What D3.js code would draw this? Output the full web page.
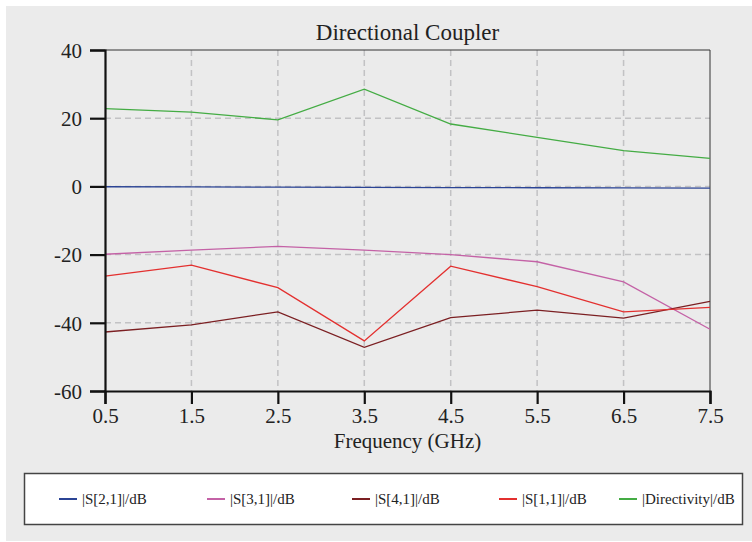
<!DOCTYPE html>
<html><head><meta charset="utf-8">
<script src="https://cdn.jsdelivr.net/npm/d3@7"></script>
<style>body{margin:0;background:#fff;} svg{display:block;}</style>
</head><body>
<script>
const freqs = [0.5, 1.5, 2.5, 3.5, 4.5, 5.5, 6.5, 7.5];
const s21 = [-0.1, -0.15, -0.2, -0.3, -0.35, -0.4, -0.45, -0.5];
const s31 = [-19.9, -18.7, -17.6, -18.7, -20.0, -22.1, -28.0, -41.9];
const s41 = [-42.7, -40.6, -36.8, -47.2, -38.5, -36.3, -38.6, -33.7];
const s11 = [-26.3, -23.1, -29.7, -45.3, -23.4, -29.4, -36.8, -35.5];
const directivity = [22.8, 21.8, 19.5, 28.5, 18.3, 14.4, 10.5, 8.2];
const xTicks = [0.5, 1.5, 2.5, 3.5, 4.5, 5.5, 6.5, 7.5];
const yTicks = [40, 20, 0, -20, -40, -60];
const seriesNames = ["|S[2,1]|/dB", "|S[3,1]|/dB", "|S[4,1]|/dB", "|S[1,1]|/dB", "|Directivity|/dB"];
const seriesColors = ["#2b4495", "#c462a6", "#7b1f22", "#e3302f", "#44ac44"];
const seriesValues = [s21, s31, s41, s11, directivity];

const W = 752, H = 542;
const L = 105, R = 710, T = 50, B = 391;
const font = "'Liberation Serif', 'Times New Roman', serif";

const svg = d3.select("body").append("svg").attr("width", W).attr("height", H);
svg.append("rect").attr("x", 6).attr("y", 6).attr("width", W - 6).attr("height", H - 7).attr("fill", "#ebebeb");

const x = d3.scaleLinear().domain([0.5, 7.5]).range([L, R]);
const y = d3.scaleLinear().domain([-60, 40]).range([B, T]);

// grid
const grid = svg.append("g").attr("stroke", "#c2c2c4").attr("stroke-width", 1.5).attr("stroke-dasharray", "6,4");
xTicks.slice(1, -1).forEach(v => grid.append("line").attr("x1", x(v)).attr("x2", x(v)).attr("y1", T).attr("y2", B));
yTicks.slice(1, -1).forEach(v => grid.append("line").attr("x1", L).attr("x2", R).attr("y1", y(v)).attr("y2", y(v)));

// frame top/right
svg.append("line").attr("x1", L).attr("x2", R).attr("y1", T).attr("y2", T).attr("stroke", "#333").attr("stroke-width", 1);
svg.append("line").attr("x1", R).attr("x2", R).attr("y1", T).attr("y2", B).attr("stroke", "#333").attr("stroke-width", 1);

// lines
const line = d3.line().x((d, i) => x(freqs[i])).y(d => y(d));
seriesValues.forEach((vals, k) => {
  svg.append("path").datum(vals).attr("d", line).attr("fill", "none")
    .attr("stroke", seriesColors[k]).attr("stroke-width", 1.3);
});

// axes
const xAxis = d3.axisBottom(x).tickValues(xTicks).tickFormat(d => d.toFixed(1)).tickSizeOuter(0).tickSize(13).tickPadding(4);
const gx = svg.append("g").attr("transform", `translate(0,${B})`).call(xAxis);
const yAxis = d3.axisLeft(y).tickValues(yTicks).tickFormat(d => String(d)).tickSizeOuter(0).tickSize(15).tickPadding(8);
const gy = svg.append("g").attr("transform", `translate(${L},0)`).call(yAxis);
[gx, gy].forEach(g => {
  g.attr("font-family", font);
  g.select(".domain").attr("stroke", "#111").attr("stroke-width", 2.2);
  g.selectAll(".tick line").attr("stroke", "#111").attr("stroke-width", 2.2);
  g.selectAll(".tick text").attr("fill", "#222").style("font-family", font).style("font-size", "21px");
});
gy.selectAll(".tick text").attr("dy", "0.35em");

// title
svg.append("text").attr("x", (L + R) / 2).attr("y", 40).attr("text-anchor", "middle")
  .style("font-family", font).style("font-size", "23px").attr("fill", "#222").text("Directional Coupler");
svg.append("text").attr("x", (L + R) / 2).attr("y", 448).attr("text-anchor", "middle")
  .style("font-family", font).style("font-size", "21px").attr("fill", "#222").text("Frequency (GHz)");

// legend
svg.append("rect").attr("x", 24.5).attr("y", 473.5).attr("width", 718).attr("height", 51)
  .attr("fill", "#fff").attr("stroke", "#444").attr("stroke-width", 1.5);
const legX = [59, 207, 352, 499, 619];
seriesNames.forEach((n, k) => {
  svg.append("line").attr("x1", legX[k]).attr("x2", legX[k] + 18).attr("y1", 499).attr("y2", 499)
    .attr("stroke", seriesColors[k]).attr("stroke-width", 2);
  svg.append("text").attr("x", legX[k] + 23).attr("y", 504).style("font-family", font)
    .style("font-size", "15px").attr("fill", "#222").text(n);
});
</script>
</body></html>
